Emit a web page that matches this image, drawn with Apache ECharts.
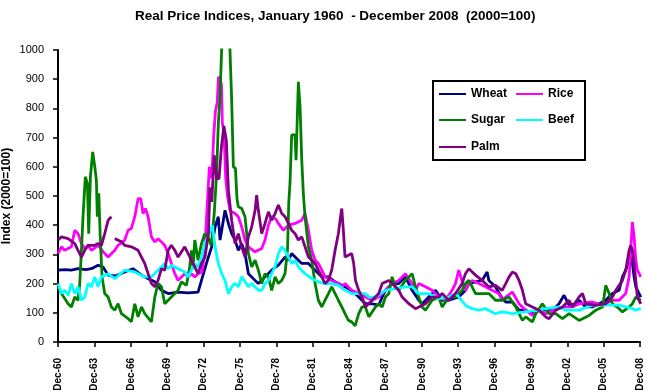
<!DOCTYPE html>
<html><head><meta charset="utf-8">
<script src="https://cdn.jsdelivr.net/npm/echarts@6/dist/echarts.min.js"></script>
<style>html,body{margin:0;padding:0;background:#fff}#c{width:646px;height:392px}</style>
</head><body><div id="c"></div>
<script>
// x tick labels (one every 36 months, starting Dec-1960)
const tickLabels = ['Dec-60','Dec-63','Dec-66','Dec-69','Dec-72','Dec-75','Dec-78','Dec-81','Dec-84','Dec-87','Dec-90','Dec-93','Dec-96','Dec-99','Dec-02','Dec-05','Dec-08'];
const seriesNames = ['Wheat','Rice','Sugar','Beef','Palm'];
// [decimal year, index]
const wheatData = [[1960.92,246],[1961.5,248],[1962.02,246],[1962.57,251],[1963.2,248],[1963.67,251],[1964.22,263],[1964.63,257],[1965.05,229],[1965.6,226],[1966.0,232],[1966.42,240],[1967.1,251],[1967.8,229],[1968.35,217],[1968.9,206],[1969.45,177],[1970.0,166],[1970.82,171],[1971.65,168],[1972.47,171],[1972.75,211],[1973.16,269],
[1973.32,291],[1973.59,326],[1973.87,394],[1974.14,429],[1974.28,349],[1974.42,383],[1974.69,451],[1974.97,406],[1975.24,371],[1975.52,349],[1975.79,314],[1976.07,337],[1976.34,303],[1976.62,234],[1977.17,211],[1977.44,200],[1977.99,223],[1978.54,246],[1979.09,263],[1979.64,291],[1979.92,280],[1980.19,303],[1980.74,280],[1981.02,269],[1981.57,269],[1982.12,246],[1982.67,223],[1983.22,223],[1983.77,206],[1984.32,194],[1984.87,183],[1985.42,166],
[1985.72,154],[1986.27,131],[1986.82,131],[1987.37,126],[1987.65,154],[1987.92,177],[1988.47,200],[1989.02,200],[1989.57,223],[1990.12,177],[1990.67,143],[1990.95,131],[1991.5,154],[1992.05,177],[1992.6,143],[1993.15,143],[1993.97,154],[1994.52,177],[1994.8,200],[1995.35,206],[1995.9,211],[1996.31,240],[1996.45,211],[1997.0,189],[1997.55,149],
[1997.84,137],[1998.39,137],[1998.94,109],[1999.49,109],[2000.04,97],[2000.59,109],[2001.14,109],[2001.69,109],[2002.24,131],[2002.65,160],[2003.07,126],[2003.62,131],[2003.89,143],[2004.44,120],[2004.99,120],[2005.54,131],[2006.09,143],[2006.64,166],[2007.19,177],[2007.47,223],[2007.74,246],[2008.02,280],[2008.15,291],[2008.29,269],[2008.43,223],[2008.57,189],[2008.84,166],[2008.98,154]];
const riceData = [[1960.92,303],[1961.2,326],[1961.47,314],[1962.02,326],[1962.3,383],[1962.57,371],[1962.85,337],[1963.12,320],[1963.4,331],[1963.67,314],[1964.22,331],[1964.77,303],[1965.05,291],[1965.6,314],[1965.87,331],[1966.42,349],[1966.7,383],[1966.97,389],[1967.25,429],[1967.52,491],[1967.74,491],[1967.93,440],[1968.13,457],[1968.35,429],[1968.62,360],[1968.9,343],[1969.17,354],[1969.72,331],[1970.0,303],[1970.27,269],[1970.55,234],[1970.82,211],[1971.37,234],[1971.65,223],[1971.92,234],[1972.2,223],[1972.47,234],[1972.8,240],[1973.0,300],[1973.2,450],[1973.4,600],[1973.6,560],[1973.75,700],[1973.9,790],[1974.05,820],[1974.15,908],[1974.3,900],[1974.4,880],[1974.47,750],[1974.6,720],[1974.75,560],[1974.9,500],[1975.1,450],[1975.52,440],[1975.79,429],[1976.07,394],[1976.34,349],[1976.62,326],[1977.17,309],[1977.72,320],[1977.99,349],[1978.27,400],[1978.54,430],[1978.9,420],[1979.09,406],[1979.5,383],[1979.92,400],[1980.47,406],[1981.02,417],[1981.29,440],[1981.57,383],[1981.84,314],[1982.12,280],[1982.39,269],[1982.67,246],[1982.94,223],[1983.49,211],[1984.04,200],[1984.32,189],[1984.59,200],[1985.14,177],
[1985.72,166],[1986.27,154],[1986.82,143],[1987.37,154],[1987.92,177],[1988.47,200],[1989.02,211],[1989.57,234],[1990.12,200],[1990.4,177],[1990.67,200],[1991.22,189],[1991.77,177],[1992.32,154],[1992.87,143],[1993.42,177],[1993.7,200],[1993.97,246],[1994.11,251],[1994.38,189],[1994.52,177],[1994.8,200],[1995.07,211],[1995.62,200],[1996.17,189],[1996.72,177],[1997.27,166],
[1997.57,143],[1997.84,154],[1998.39,171],[1998.94,131],[1999.49,109],[2000.04,91],[2000.59,109],[2001.14,97],[2001.69,109],[2002.52,120],[2003.34,120],[2003.89,131],[2004.99,137],[2005.82,126],[2006.64,143],[2007.19,143],[2007.74,166],[2008.02,223],[2008.15,314],[2008.29,411],[2008.43,360],[2008.57,280],[2008.7,246],[2008.98,223]];
const sugarData = [[1960.92,189],[1961.2,166],[1961.47,149],[1961.75,131],[1962.02,120],[1962.3,154],[1962.57,143],[1962.71,200],[1962.85,314],[1962.98,429],[1963.17,566],[1963.34,543],[1963.45,371],[1963.59,566],[1963.78,651],[1963.95,600],[1964.08,555],[1964.16,429],[1964.28,509],[1964.39,371],[1964.55,223],[1964.77,166],[1965.05,154],[1965.32,120],[1965.6,109],[1965.87,131],[1966.15,97],[1966.7,80],[1966.97,69],[1967.25,131],[1967.52,86],[1967.8,120],[1968.07,97],[1968.62,69],[1968.9,154],[1969.17,200],[1969.45,189],[1969.72,131],[1970.0,143],[1970.55,166],[1970.82,177],[1971.1,206],[1971.51,194],[1971.78,257],[1971.92,314],[1972.06,257],[1972.2,349],[1972.47,280],[1972.75,337],[1973.02,371],[1973.29,360],[1973.55,330],[1973.8,440],[1974.0,577],[1974.14,749],[1974.28,840],[1974.42,1010],[1974.6,1300],[1974.8,1450],[1975.0,1300],[1975.1,1000],[1975.24,829],[1975.38,600],[1975.55,595],[1975.68,490],[1975.79,463],[1976.07,457],[1976.34,429],[1976.48,371],[1976.62,303],[1976.89,257],[1977.17,280],[1977.44,246],[1977.72,200],[1977.99,234],[1978.27,223],[1978.54,177],[1978.82,223],[1979.09,200],[1979.37,211],[1979.64,234],[1979.85,320],[1979.95,480],[1980.05,543],[1980.19,709],[1980.46,709],[1980.55,623],[1980.74,891],[1980.88,806],[1981.02,623],[1981.15,509],[1981.29,429],[1981.57,326],[1981.84,280],[1982.12,200],[1982.39,143],[1982.67,120],[1982.94,143],[1983.22,166],[1983.49,189],[1983.77,166],[1984.04,143],[1984.32,120],[1984.59,97],[1984.87,74],[1985.14,69],[1985.42,55],
[1985.72,97],[1985.99,120],[1986.27,120],[1986.55,86],[1987.1,120],[1987.37,131],[1987.65,120],[1987.92,154],[1988.2,166],[1988.47,223],[1988.75,189],[1989.02,177],[1989.57,211],[1990.12,234],[1990.26,229],[1990.4,189],[1990.67,154],[1990.95,120],[1991.22,109],[1991.77,143],[1992.32,154],[1992.6,120],[1993.15,154],[1993.7,154],[1994.25,177],[1994.52,200],[1994.8,211],[1995.07,189],[1995.35,166],[1995.9,166],[1996.45,166],[1997.0,143],[1997.55,143],
[1998.12,154],[1998.67,120],[1998.94,97],[1999.22,74],[1999.49,86],[2000.04,69],[2000.32,97],[2000.87,131],[2001.42,97],[2001.97,97],[2002.52,80],[2003.07,97],[2003.89,74],[2004.72,91],[2005.27,109],[2005.82,120],[2005.95,154],[2006.09,194],[2006.37,166],[2006.64,131],[2007.19,114],[2007.47,103],[2008.02,120],[2008.29,131],[2008.57,154],[2008.98,143]];
const beefData = [[1960.92,200],[1961.2,166],[1961.47,177],[1961.75,160],[1962.02,200],[1962.3,166],[1962.57,189],[1962.85,143],[1963.12,154],[1963.4,200],[1963.67,189],[1963.95,223],[1964.22,189],[1964.5,223],[1965.05,234],[1965.6,217],[1966.42,246],[1967.25,240],[1968.07,223],[1968.62,223],[1969.17,246],[1969.72,269],[1970.0,251],[1970.27,263],[1970.82,251],[1971.37,240],[1971.65,223],[1972.2,269],[1972.47,257],[1972.75,291],[1973.02,337],[1973.3,360],[1973.45,380],[1973.65,400],[1973.87,326],[1974.14,269],[1974.42,234],[1974.69,211],[1974.97,166],[1975.24,189],[1975.52,200],[1975.79,189],[1976.07,223],[1976.62,189],[1976.89,200],[1977.44,177],[1977.72,177],[1977.99,200],[1978.27,211],[1978.54,234],[1978.82,257],[1979.09,303],[1979.37,326],[1979.64,314],[1979.92,291],[1980.19,269],[1980.47,280],[1980.74,257],[1981.29,234],[1981.84,217],[1982.39,206],[1982.94,200],[1983.49,200],[1984.04,194],[1984.59,177],[1985.14,166],
[1985.72,166],[1986.27,166],[1986.55,154],[1987.1,154],[1987.92,177],[1988.75,183],[1989.57,189],[1990.12,189],[1990.67,166],[1991.5,166],[1992.32,149],[1993.15,154],[1993.7,166],[1993.97,154],[1994.52,126],[1995.07,114],[1995.62,109],[1996.17,114],[1997.0,97],[1997.55,103],
[1998.39,97],[1999.49,103],[2000.59,109],[2001.14,114],[2002.24,120],[2002.79,109],[2003.89,109],[2004.99,126],[2006.09,126],[2007.19,126],[2008.29,114],[2008.57,109],[2008.98,114]];
const palmData = [[1960.92,349],[1961.2,360],[1961.75,354],[1962.3,337],[1962.57,314],[1962.85,291],[1963.12,314],[1963.4,331],[1963.95,331],[1964.22,337],[1964.5,331],[1964.77,371],[1965.05,417],[1965.32,429],[1965.46,null],[1965.6,354],[1966.15,343],[1966.42,331],[1966.97,326],[1967.52,314],[1967.8,291],[1968.07,269],[1968.35,234],[1968.62,200],[1968.9,189],[1969.17,211],[1969.45,251],[1969.72,246],[1970.0,314],[1970.27,331],[1970.55,314],[1970.82,291],[1971.37,326],[1971.92,280],[1972.47,234],[1972.75,269],[1973.04,291],[1973.32,371],[1973.45,530],[1973.6,480],[1973.8,640],[1974.0,560],[1974.2,560],[1974.4,670],[1974.6,740],[1974.8,690],[1974.97,520],[1975.24,417],[1975.52,337],[1975.79,371],[1976.07,326],[1976.34,291],[1976.62,360],[1976.89,394],[1977.17,451],[1977.3,503],[1977.44,451],[1977.72,371],[1977.99,406],[1978.27,446],[1978.54,417],[1978.82,440],[1979.09,469],[1979.37,440],[1979.64,429],[1979.92,406],[1980.19,383],[1980.47,371],[1980.74,349],[1981.02,360],[1981.29,326],[1981.57,291],[1982.12,269],[1982.39,246],[1982.67,223],[1982.94,200],[1983.22,211],[1983.49,246],[1983.77,314],[1984.04,371],[1984.18,417],[1984.32,457],[1984.45,383],[1984.59,291],[1985.14,303],[1985.3,270],[1985.45,211],
[1985.72,177],[1985.99,154],[1986.27,120],[1986.82,143],[1987.37,166],[1987.65,200],[1988.2,211],[1988.47,200],[1989.02,177],[1989.3,154],[1989.85,131],[1990.4,114],[1991.22,131],[1991.77,154],[1992.32,154],[1992.6,166],[1993.15,143],[1993.7,166],[1994.25,200],[1994.52,234],[1994.8,251],[1995.35,229],[1995.9,211],[1996.45,189],[1997.0,194],[1997.55,177],
[1997.84,200],[1998.12,223],[1998.39,240],[1998.67,234],[1998.94,211],[1999.22,177],[1999.49,131],[2000.04,120],[2000.59,109],[2001.14,86],[2001.42,80],[2001.97,109],[2002.52,120],[2003.07,143],[2003.34,120],[2003.89,154],[2004.17,166],[2004.44,131],[2005.27,126],[2006.09,131],[2006.64,154],[2006.92,177],[2007.47,211],[2007.74,246],[2008.02,314],[2008.15,331],[2008.29,314],[2008.43,269],[2008.57,211],[2008.7,154],[2008.98,131]];
const seriesColors = ['#000080','#FF00FF','#008000','#00FFFF','#800080'];

const START = 1960 + 11/12; // Dec-1960
function toMonths(arr){
  return arr.map(p => [ (p[0]-START)*12, p[1] === null ? '-' : p[1] ]);
}
const allData = [wheatData, riceData, sugarData, beefData, palmData];
const FONT = 'Arial, "Liberation Sans", sans-serif';

const chart = echarts.init(document.getElementById('c'), null, {renderer:'canvas'});
const legendPos = [[439,87],[516,87],[439,113],[516,113],[439,140]];
chart.setOption({
  animation:false,
  backgroundColor:'#fff',
  title:{text:'Real Price Indices, January 1960  - December 2008  (2000=100)', left:130, top:4,
    textStyle:{fontFamily:FONT,fontSize:13.5,fontWeight:'bold',color:'#000'}},
  graphic:[{type:'rect', z:1, shape:{x:433,y:81,width:152,height:79},
    style:{fill:'#fff',stroke:'#000',lineWidth:2}}],
  legend: seriesNames.map((n,i)=>({
    data:[n], left:legendPos[i][0], top:legendPos[i][1], padding:0, z:10,
    itemWidth:27, itemHeight:2, icon:'rect',
    itemStyle:{color:seriesColors[i]},
    textStyle:{fontFamily:FONT,fontSize:12,fontWeight:'bold',color:'#000',lineHeight:14}
  })),
  grid:{left:58,right:6,top:50,bottom:50,containLabel:false,outerBoundsMode:'none'},
  xAxis:{type:'value',min:0,max:576,interval:36,
    axisLine:{show:true,lineStyle:{color:'#000',width:2}},
    axisTick:{show:true,length:5,lineStyle:{color:'#000',width:1.5}},
    splitLine:{show:false},
    axisLabel:{rotate:90,margin:16,fontFamily:FONT,fontSize:10,fontWeight:'bold',color:'#000',
      showMinLabel:true,showMaxLabel:true,
      formatter:v=>tickLabels[Math.round(v/36)]}},
  yAxis:{type:'value',min:0,max:1000,interval:100,
    name:'Index (2000=100)',nameLocation:'middle',nameGap:45,nameRotate:90,nameMoveOverlap:false,
    nameTextStyle:{fontFamily:FONT,fontSize:12,fontWeight:'bold',color:'#000'},
    axisLine:{show:true,lineStyle:{color:'#000',width:2}},
    axisTick:{show:true,length:5,lineStyle:{color:'#000',width:1.5}},
    splitLine:{show:false},
    axisLabel:{margin:14,fontFamily:FONT,fontSize:11,color:'#000',formatter:v=>String(v)}},
  series: seriesNames.map((n,i)=>({
    name:n,type:'line',symbol:'none',showSymbol:false,clip:true,connectNulls:false,
    data:toMonths(allData[i]),
    lineStyle:{color:seriesColors[i],width:2.8},
    itemStyle:{color:seriesColors[i]}
  }))
});
</script></body></html>
